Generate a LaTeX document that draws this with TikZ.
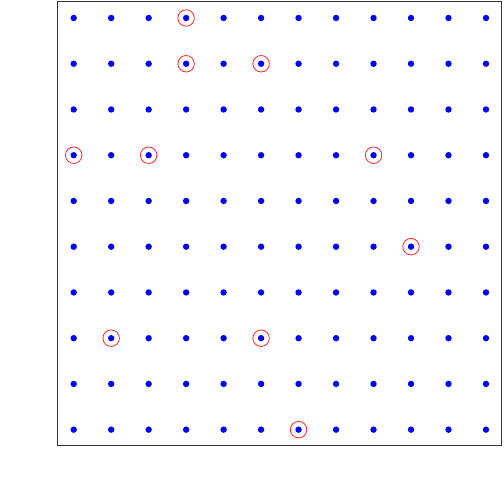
\documentclass[tikz,border=0pt]{standalone}
\usepackage{tikz}
\usetikzlibrary{positioning}

\begin{document}
\begin{tikzpicture}[x=1pt,y=1pt,
                dot/.style={circle,fill=blue,inner sep=0pt,minimum size=6.4pt},
                mark ring/.style={circle,draw=red!85!white,line width=0.8pt,inner sep=0pt,minimum size=16.5pt},
                frame/.style={draw=black!80,line width=1pt}]
                \useasboundingbox (0,0) rectangle (504,504);
                \node[frame,rectangle,inner sep=0pt,minimum width=444.4pt,minimum height=444.7pt] (box) at (279.5,280.35) {};
                % grid of points, column i, row j (top row is 1)
                \foreach \i in {1,...,12}
                    \foreach \j in {1,...,10}
                        \node[dot] (d-\i-\j) at ({73.7+(\i-1)*37.48},{486-(\j-1)*45.74}) {};
                % marked points
                \foreach \i/\j in {4/1,4/2,6/2,1/4,3/4,9/4,10/6,2/8,6/8,7/10}
                    \node[mark ring] (r-\i-\j) at (d-\i-\j) {};
            \end{tikzpicture}
\end{document}
